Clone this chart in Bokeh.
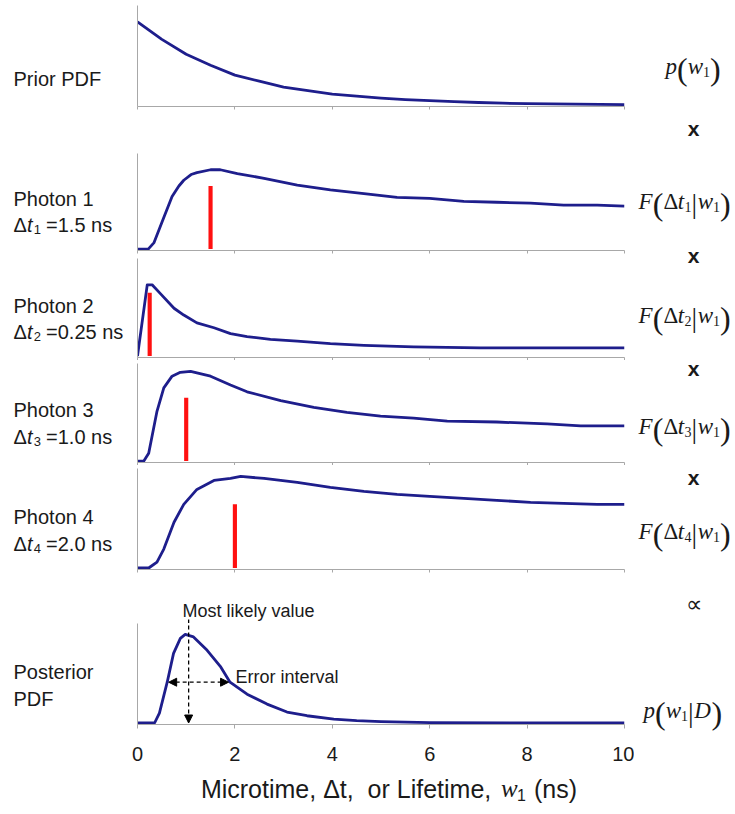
from bokeh.plotting import figure
from bokeh.models import Range1d, Label, Arrow, NormalHead, FixedTicker
from bokeh.layouts import row, column
from bokeh.embed import file_html
from bokeh.resources import INLINE

# ---------------- data ----------------
X_TICKS = [0, 2, 4, 6, 8, 10]

prior_x = [0, 0.5, 1, 1.5, 2, 2.5, 3, 3.5, 4, 4.5, 5, 5.5, 6, 6.5, 7, 7.5, 8, 9, 10]
prior_y = [0.835, 0.66, 0.51, 0.40, 0.30, 0.24, 0.18, 0.145, 0.11, 0.09, 0.07, 0.055,
           0.045, 0.035, 0.025, 0.018, 0.013, 0.008, 0.003]

ph1_x = [0, 0.22, 0.34, 0.44, 0.54, 0.71, 0.85, 0.95, 1.1, 1.22, 1.5, 1.7, 2.05, 2.6, 3.28,
         3.96, 4.65, 5.33, 6.0, 6.7, 7.38, 8.07, 8.75, 9.44, 10]
ph1_y = [0, 0, 0.068, 0.2, 0.33, 0.55, 0.66, 0.72, 0.78, 0.80, 0.83, 0.83, 0.79, 0.74, 0.67,
         0.62, 0.58, 0.54, 0.53, 0.50, 0.49, 0.48, 0.46, 0.46, 0.45]

ph2_x = [0, 0.2, 0.3, 0.47, 0.75, 0.95, 1.22, 1.57, 1.91, 2.25, 2.73, 3.28, 3.96, 4.65,
         5.67, 7.04, 8.07, 10]
ph2_y = [0, 0.73, 0.73, 0.64, 0.49, 0.42, 0.34, 0.29, 0.23, 0.2, 0.17, 0.153, 0.127, 0.11,
         0.093, 0.083, 0.083, 0.083]

ph3_x = [0, 0.13, 0.23, 0.4, 0.54, 0.71, 0.88, 1.09, 1.5, 1.91, 2.25, 2.94, 3.62, 4.3,
         4.99, 5.67, 6.36, 7.38, 8.41, 9.1, 10]
ph3_y = [0, 0, 0.08, 0.51, 0.75, 0.87, 0.91, 0.92, 0.87, 0.78, 0.71, 0.62, 0.55, 0.50,
         0.46, 0.44, 0.41, 0.40, 0.38, 0.36, 0.36]

ph4_x = [0, 0.23, 0.4, 0.54, 0.75, 0.95, 1.22, 1.57, 1.91, 2.12, 2.6, 3.28, 3.96, 4.65,
         5.33, 6.0, 6.7, 7.38, 8.07, 8.75, 9.44, 10]
ph4_y = [0, 0, 0.06, 0.19, 0.46, 0.64, 0.79, 0.88, 0.90, 0.92, 0.90, 0.86, 0.81, 0.77,
         0.74, 0.72, 0.70, 0.68, 0.66, 0.65, 0.64, 0.64]

post_x = [0, 0.35, 0.45, 0.61, 0.74, 0.88, 0.98, 1.15, 1.43, 1.7, 1.9, 2.25, 2.66, 3.07,
          3.48, 4.03, 4.5, 5.0, 6.0, 10]
post_y = [0, 0, 0.1, 0.41, 0.70, 0.85, 0.89, 0.865, 0.73, 0.57, 0.41, 0.29, 0.19, 0.11,
          0.073, 0.04, 0.023, 0.013, 0.003, 0]

photon_times = [1.5, 0.25, 1.0, 2.0]
photon_time_labels = ["1.5", "0.25", "1.0", "2.0"]
photon_bar_heights = [0.66, 0.65, 0.65, 0.64]

most_likely = 1.05
err_lo, err_hi, err_level = 0.64, 1.87, 0.41

# ---------------- styling ----------------
SANS = "Liberation Sans"
SERIF = "Liberation Serif"
NAVY = "#1e1e8c"
GRAY = "#a8a8a8"
TXT = "#1a1a1a"
Y0 = -0.015
FRAME_L = 137          # page x of the panels' left frame edge
PX_PER_UNIT = 48.7
FIX = -9               # baseline correction for alphabetic labels

xr = Range1d(0, 10)

# (frame_top, frame_bottom, border_top, border_bottom) in page pixels
specs = [(5, 106, 5, 9), (153, 250, 38, 4), (258, 357, 4, 3),
         (363, 462, 3, 3), (468, 569, 3, 4), (623, 724, 0, 50)]


def make_panel(ft, fb, bt, bb, last=False):
    p = figure(frame_width=487, frame_height=fb - ft, x_range=xr, y_range=Range1d(Y0, 1.0),
               min_border_left=10, min_border_right=10, min_border_top=bt,
               min_border_bottom=bb, output_backend="svg", toolbar_location=None,
               outline_line_color=None, background_fill_color="white",
               border_fill_color="white")
    p.grid.visible = False
    ya = p.yaxis[0]
    ya.ticker = FixedTicker(ticks=[])
    ya.axis_line_color = GRAY
    ya.major_tick_line_color = None
    ya.minor_tick_line_color = None
    ya.major_label_text_font_size = "0px"
    ya.major_label_text_color = None
    ya.major_label_standoff = 0
    xa = p.xaxis[0]
    xa.ticker = FixedTicker(ticks=X_TICKS)
    xa.minor_tick_line_color = None
    xa.major_tick_in = 0
    xa.major_tick_out = 4 if last else 3
    xa.major_tick_line_color = GRAY
    xa.axis_line_color = GRAY
    if last:
        xa.major_label_text_font = SANS
        xa.major_label_text_font_size = "20px"
        xa.major_label_text_color = TXT
        xa.major_label_standoff = 18
    else:
        xa.major_label_text_font_size = "0px"
        xa.major_label_text_color = None
        xa.major_label_standoff = 0
    return p


panels = [make_panel(*s, last=(i == 5)) for i, s in enumerate(specs)]

curves = [(prior_x, prior_y), (ph1_x, ph1_y), (ph2_x, ph2_y), (ph3_x, ph3_y),
          (ph4_x, ph4_y), (post_x, post_y)]
for p, (cx, cy) in zip(panels, curves):
    p.line(cx, cy, line_color=NAVY, line_width=2.8, line_join="round")

for k in range(4):
    panels[k + 1].vbar(x=[photon_times[k]], top=[photon_bar_heights[k]], bottom=[0],
                       width=0.085, fill_color="#ff1010", line_color=None)


def px2x(px):
    return (px - FRAME_L) / PX_PER_UNIT


# posterior annotations
pp = panels[5]
head = dict(size=8, fill_color="black", line_color="black")
pp.add_layout(Arrow(end=NormalHead(**head),
                    x_start=most_likely, y_start=1.05, x_end=most_likely, y_end=0,
                    line_dash="4 3", line_width=1.3, line_color="black"))
pp.add_layout(Arrow(start=NormalHead(**head), end=NormalHead(**head),
                    x_start=err_lo, y_start=err_level, x_end=err_hi, y_end=err_level,
                    line_dash="4 3", line_width=1.3, line_color="black"))
pp.add_layout(Label(x=px2x(235), y=0.465, text="Error interval", text_font=SANS,
                    text_font_size="18px", text_baseline="middle", text_color=TXT))

# strip above the posterior panel holding the "Most likely value" note
note = figure(frame_width=487, frame_height=50, x_range=xr, y_range=Range1d(623, 573),
              min_border_left=10, min_border_right=10, min_border_top=0,
              min_border_bottom=0, x_axis_location=None, y_axis_location=None,
              output_backend="svg", toolbar_location=None, outline_line_color=None,
              background_fill_color="white", border_fill_color="white")
note.grid.visible = False
note.add_layout(Label(x=px2x(182), y=610, text="Most likely value", text_font=SANS,
                      text_font_size="18px", text_baseline="middle", text_color=TXT))
note.segment(x0=[most_likely], y0=[619], x1=[most_likely], y1=[623], line_color="black",
             line_width=1.3)


def side_fig(w, h, x_lo, x_hi, y_top, y_bot):
    f = figure(width=w, height=h, x_range=Range1d(x_lo, x_hi),
               y_range=Range1d(y_bot, y_top), min_border=0, x_axis_location=None,
               y_axis_location=None, output_backend="svg", toolbar_location=None,
               outline_line_color=None, background_fill_color="white",
               border_fill_color="white")
    f.grid.visible = False
    return f


# strip below the posterior panel holding the axis title
title_strip = side_fig(507, 40, 127, 634, 774, 814)


def runs(fig, x0, base, items):
    x = x0
    for text, font, style, size, w_em, dy in items:
        fig.add_layout(Label(x=x, y=base + dy + FIX, text=text, text_font=font,
                             text_font_style=style, text_font_size=f"{size}px",
                             text_baseline="alphabetic", text_align="left",
                             text_color=TXT))
        x += w_em * size


runs(title_strip, 193, 797, [
    ("Microtime, \u0394t, \u00a0or Lifetime,", SANS, "normal", 25, 12.5, 0),
    ("w", SERIF, "italic", 25, 0.667, 0),
    ("1", SANS, "normal", 16, 1.1, 6),
    ("(ns)", SANS, "normal", 25, 1.8, 0),
])

left = side_fig(127, 814, 0, 127, 0, 814)
right = side_fig(101, 814, 634, 735, 0, 814)


def txt(fig, x, y, s, size=20, font=SANS, style="normal", align="left", base="alphabetic"):
    if base == "alphabetic":
        y = y + FIX
    fig.add_layout(Label(x=x, y=y, text=s, text_font=font, text_font_style=style,
                         text_font_size=f"{size}px", text_align=align,
                         text_baseline=base, text_color=TXT))


# left labels
txt(left, 13, 87, "Prior PDF")
photon_bases = [(207, 233), (314, 340), (418, 445), (525, 552)]
for k, (b1, b2) in enumerate(photon_bases):
    txt(left, 13, b1, f"Photon {k + 1}")
    runs(left, 13, b2, [
        ("\u0394", SANS, "normal", 20, 0.68, 0),
        ("t", SANS, "italic", 20, 0.33, 0),
        (str(k + 1), SANS, "normal", 13, 0.95, 5),
        ("=" + photon_time_labels[k] + " ns", SANS, "normal", 20, 1, 0),
    ])
txt(left, 13, 680, "Posterior")
txt(left, 13, 707, "PDF")

# right labels
for yc in [128, 255, 368, 477]:
    txt(right, 693, yc, "x", size=21, style="bold", align="center", base="middle")
txt(right, 693, 604, "\u221d", size=23, font=SERIF, align="center", base="middle")

L, P = 23, 32
runs(right, 665, 68 + 7, [
    ("p", SERIF, "italic", L, 0.5, 0),
    ("(", SERIF, "normal", P, 0.333, 2),
    ("w", SERIF, "italic", L, 0.667, 0),
    ("1", SERIF, "normal", 14, 0.5, 5),
    (")", SERIF, "normal", P, 0.333, 2),
])
for k, yc in enumerate([203, 317, 428, 533]):
    runs(right, 638, yc + 7, [
        ("F", SERIF, "italic", L, 0.62, 0),
        ("(", SERIF, "normal", P, 0.333, 2),
        ("\u0394", SERIF, "normal", L, 0.62, 0),
        ("t", SERIF, "italic", L, 0.30, 0),
        (str(k + 1), SERIF, "normal", 14, 0.5, 5),
        ("|", SERIF, "normal", 28, 0.22, 2),
        ("w", SERIF, "italic", L, 0.667, 0),
        ("1", SERIF, "normal", 14, 0.5, 5),
        (")", SERIF, "normal", P, 0.333, 2),
    ])
runs(right, 643, 712 + 7, [
    ("p", SERIF, "italic", L, 0.5, 0),
    ("(", SERIF, "normal", P, 0.333, 2),
    ("w", SERIF, "italic", L, 0.667, 0),
    ("1", SERIF, "normal", 14, 0.5, 5),
    ("|", SERIF, "normal", 28, 0.22, 2),
    ("D", SERIF, "italic", L, 0.75, 0),
    (")", SERIF, "normal", P, 0.333, 2),
])

center = column(*panels[:5], note, panels[5], title_strip)
layout = row(left, center, right)
open("out.html", "w").write(file_html(layout, INLINE))
